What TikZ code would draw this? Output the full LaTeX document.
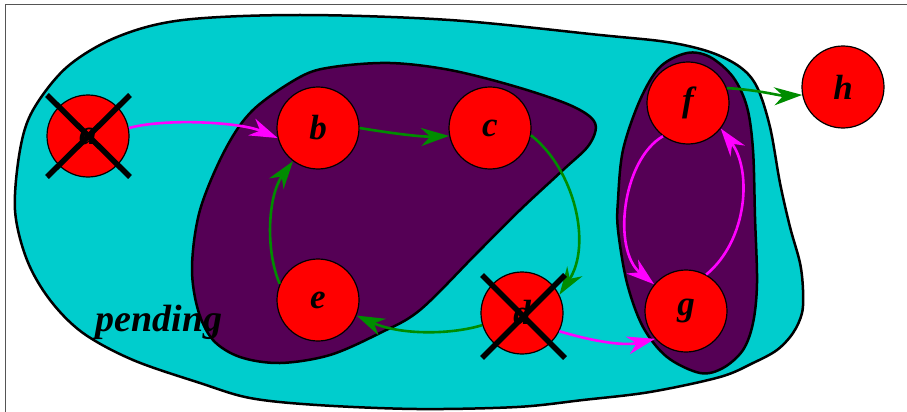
\documentclass[tikz,border=0pt]{standalone}
\usepackage{fontspec}
\setmainfont{Liberation Serif}
\usetikzlibrary{arrows.meta}
\definecolor{cyanfill}{RGB}{0,205,205}
\definecolor{purplefill}{RGB}{85,0,85}
\definecolor{arrgreen}{RGB}{0,140,0}
\definecolor{arrmag}{RGB}{255,0,255}
\definecolor{framegray}{RGB}{85,85,85}
\tikzset{
  blob/.style={draw=black, line width=2.5pt, line join=round},
  statenode/.style={circle, draw=black, line width=1.2pt, fill=red, minimum size=82pt, inner sep=0pt,
    font=\fontsize{35}{35}\selectfont\bfseries\itshape},
  garr/.style={draw=arrgreen, line width=2.6pt, -{Stealth[length=28pt,width=18pt,inset=9pt]}},
  marr/.style={draw=arrmag, line width=2.6pt, -{Stealth[length=28pt,width=18pt,inset=9pt]}},
  crossline/.style={line width=5.5pt, black}
}
\begin{document}
\begin{tikzpicture}[x=1pt,y=-1pt]
\useasboundingbox (0,0) rectangle (907,412);
% frame
\draw[framegray, line width=1.5pt] (5.5,412) -- (5.5,4.5) -- (907,4.5);
% cyan blob
\draw[blob, fill=cyanfill] plot[smooth cycle, tension=0.55] coordinates {
(300,15) (450,20) (600,35) (667,42) (710,52) (740,67) (757,87) (770,127) (780,183) (790,227) (800,263) (803,290) (802,313) (793,333) (777,350) (753,363) (720,377) (650,392) (583,400) (517,407) (417,409) (317,405) (250,398) (200,383) (133,360) (83,333) (50,300) (27,260) (15,210) (20,150) (33,110) (67,67) (117,37) (183,20)};
% purple blob 1
\draw[blob, fill=purplefill] plot[smooth cycle, tension=0.55] coordinates {
(253,110) (300,77) (333,67) (390,63) (450,70) (517,87) (572,106) (595,123) (589,145) (563,170) (520,210) (477,253) (420,310) (380,333) (330,355) (280,363) (240,357) (213,340) (198,310) (192,267) (200,210) (225,150)};
% purple blob 2
\draw[blob, fill=purplefill] plot[smooth cycle, tension=0.55] coordinates {
(687,53) (710,57) (733,77) (747,107) (753,150) (755,217) (757,283) (753,323) (743,350) (723,368) (700,373) (667,357) (643,327) (627,283) (618,230) (618,200) (623,150) (640,100) (660,67)};
% nodes
\node[statenode] (a) at (88,136) {a};
\node[statenode] (b) at (318,128) {b};
\node[statenode] (c) at (490,128) {c};
\node[statenode] (d) at (522,313) {d};
\node[statenode] (e) at (318,300) {e};
\node[statenode] (f) at (688,103) {f};
\node[statenode] (g) at (686,311) {g};
\node[statenode] (h) at (843,87) {h};
\node[font=\fontsize{38}{38}\selectfont\bfseries\itshape] (pending) at (159,322) {pending};
% edges
\draw[marr] (a.11) .. controls (165,118) and (240,122) .. (b.194);
\draw[garr] (b.0) .. controls (390,133) and (420,137) .. (c.191);
\draw[garr] (c.350) .. controls (575,170) and (592,245) .. (d.26);
\draw[garr] (d.197) .. controls (450,335) and (400,335) .. (e.338);
\draw[garr] (e.157) .. controls (265,250) and (268,195) .. (b.233);
\draw[marr] (d.334) .. controls (595,342) and (625,346) .. (g.222);
\draw[marr] (f.233) .. controls (622,160) and (612,250) .. (g.140);
\draw[marr] (g.61) .. controls (748,240) and (752,170) .. (f.322);
\draw[garr] (f.21) .. controls (760,90) and (780,96) .. (h.191);
% crosses
\draw[crossline] (47,95) -- (130,177);
\draw[crossline] (130,95) -- (47,177);
\draw[crossline] (482,275) -- (565,358);
\draw[crossline] (565,275) -- (482,358);
\end{tikzpicture}
\end{document}
